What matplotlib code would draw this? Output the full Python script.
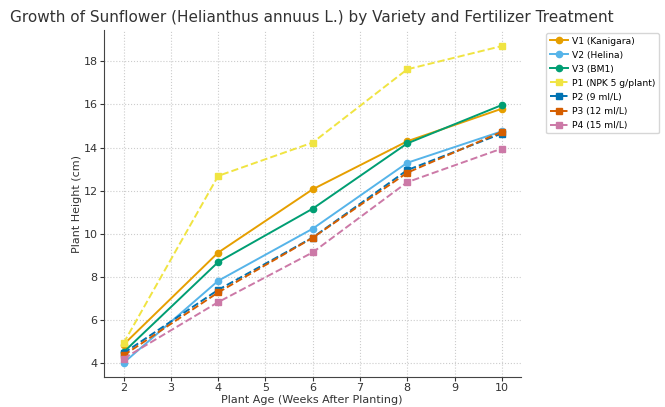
import matplotlib
matplotlib.use("Agg")
import matplotlib.pyplot as plt

weeks = [2, 4, 6, 8, 10]
v1 = [4.85, 9.12, 12.06, 14.29, 15.8]
v2 = [4.0, 7.81, 10.23, 13.29, 14.75]
v3 = [4.5, 8.68, 11.16, 14.19, 15.97]
p1 = [4.92, 12.68, 14.23, 17.63, 18.71]
p2 = [4.45, 7.39, 9.82, 12.95, 14.65]
p3 = [4.35, 7.27, 9.81, 12.83, 14.73]
p4 = [4.2, 6.82, 9.13, 12.39, 13.95]

series = [
    ("V1 (Kanigara)", v1, "#E69F00", "-", "o"),
    ("V2 (Helina)", v2, "#56B4E9", "-", "o"),
    ("V3 (BM1)", v3, "#009E73", "-", "o"),
    ("P1 (NPK 5 g/plant)", p1, "#F0E442", "--", "s"),
    ("P2 (9 ml/L)", p2, "#0072B2", "--", "s"),
    ("P3 (12 ml/L)", p3, "#D55E00", "--", "s"),
    ("P4 (15 ml/L)", p4, "#CC79A7", "--", "s"),
]

fig = plt.figure(figsize=(6.65, 4.07), dpi=100)
ax = fig.add_axes([0.156, 0.074, 0.627, 0.852])
for label, vals, color, ls, mk in series:
    ax.plot(weeks, vals, linestyle=ls, marker=mk, color=color, label=label,
            linewidth=1.4, markersize=4.5)

ax.set_xlim(1.58, 10.4)
ax.set_ylim(3.35, 19.45)
ax.set_xticks(range(2, 11))
ax.set_yticks([4, 6, 8, 10, 12, 14, 16, 18])
ax.grid(True, linestyle=":", color="#cccccc", linewidth=0.8)
for s in ["top", "right"]:
    ax.spines[s].set_visible(False)
for s in ["left", "bottom"]:
    ax.spines[s].set_color("#444444")
ax.tick_params(labelsize=8, colors="#333333", length=3, pad=1.5)
ax.set_xlabel("Plant Age (Weeks After Planting)", fontsize=8, color="#333333", labelpad=1)
ax.set_ylabel("Plant Height (cm)", fontsize=8, color="#333333", labelpad=1)
ax.set_title("Growth of Sunflower (Helianthus annuus L.) by Variety and Fertilizer Treatment",
             fontsize=11, color="#333333", pad=6)
ax.legend(loc="upper left", bbox_to_anchor=(1.055, 1.0), fontsize=6.6, frameon=True,
          borderaxespad=0.3, handlelength=2.0, handletextpad=0.4, borderpad=0.4,
          labelspacing=0.55)
fig.savefig("out.png", dpi=100)
